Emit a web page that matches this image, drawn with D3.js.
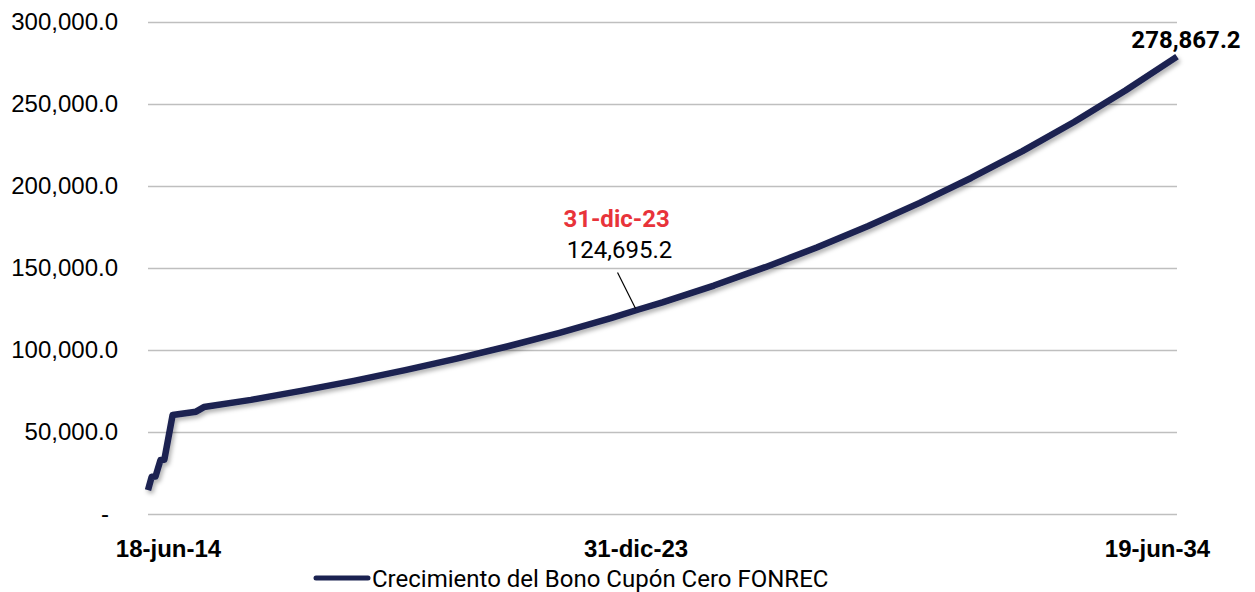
<!DOCTYPE html>
<html>
<head>
<meta charset="utf-8">
<script src="https://cdn.jsdelivr.net/npm/d3@7"></script>
<style>
  html, body { margin: 0; padding: 0; background: #fff; }
  svg { display: block; font-family: Roboto, "Noto Sans", sans-serif; }
</style>
</head>
<body>
<svg id="chart" width="1255" height="592"></svg>
<script>
// data
var dates = ["2014-06-18", "2014-07-14", "2014-08-10", "2014-09-15", "2014-10-12", "2014-12-10",
  "2015-05-25", "2015-07-20", "2016-06-18", "2017-06-18", "2018-06-18", "2019-06-18",
  "2020-06-18", "2021-06-18", "2022-06-18", "2023-06-18", "2023-12-31", "2024-06-18",
  "2025-06-18", "2026-06-18", "2027-06-18", "2028-06-18", "2029-06-18", "2030-06-18",
  "2031-06-18", "2032-06-18", "2033-06-18", "2034-06-19"];
var values = [14600, 22700, 22800, 33000, 33100, 60400,
  62400, 65200, 69600, 75200, 81200, 87700,
  94700, 102300, 110500, 119400, 124695.2, 129000,
  139300, 150500, 162500, 175600, 189700, 204900,
  221300, 239000, 258200, 278867.2];
var yTicks = [0, 50000, 100000, 150000, 200000, 250000, 300000];
var xTickDates = ["2014-06-18", "2023-12-31", "2034-06-19"];
var xTickLabels = ["18-jun-14", "31-dic-23", "19-jun-34"];
var seriesName = "Crecimiento del Bono Cupón Cero FONREC";
var calloutDate = "2023-12-31", calloutValue = 124695.2, calloutLabel = "31-dic-23";

var parse = d3.timeParse("%Y-%m-%d");
var data = dates.map(function (d, i) { return { date: parse(d), value: values[i] }; });

var margin = { top: 22, right: 78, bottom: 78, left: 148 };
var width = 1255 - margin.left - margin.right;
var height = 592 - margin.top - margin.bottom;

var svg = d3.select("#chart");
var defs = svg.append("defs");
var shadow = defs.append("filter").attr("id", "shadow")
    .attr("x", "-5%").attr("y", "-5%").attr("width", "110%").attr("height", "120%");
shadow.append("feDropShadow")
    .attr("dx", 2).attr("dy", 3).attr("stdDeviation", 2)
    .attr("flood-color", "#000").attr("flood-opacity", 0.3);

var g = svg.append("g").attr("transform", "translate(" + margin.left + "," + margin.top + ")");

var x = d3.scaleTime()
    .domain([parse(dates[0]), parse(dates[dates.length - 1])])
    .range([0, width]);
var y = d3.scaleLinear().domain([0, 300000]).range([height, 0]);

// gridlines + y labels
var yAxis = d3.axisLeft(y)
    .tickValues(yTicks)
    .tickSize(-width)
    .tickPadding(30)
    .tickFormat(function (d) { return d === 0 ? "-" : d3.format(",.1f")(d); });
var ya = g.append("g").call(yAxis);
ya.select(".domain").remove();
ya.selectAll(".tick line").attr("stroke", "#bfbfbf").attr("stroke-width", 1.5);
ya.selectAll(".tick text")
    .attr("fill", "#000")
    .style("font-size", "24px")
    .attr("dx", function (d) { return d === 0 ? -9 : 0; });

// x labels
var xAxis = d3.axisBottom(x)
    .tickValues(xTickDates.map(parse))
    .tickSize(0)
    .tickPadding(26)
    .tickFormat(function (d, i) { return xTickLabels[i]; });
var xa = g.append("g").attr("transform", "translate(0," + height + ")").call(xAxis);
xa.select(".domain").remove();
xa.selectAll(".tick text")
    .attr("fill", "#000")
    .style("font-size", "24px")
    .style("font-weight", "bold")
    .attr("dx", function (d, i) { return i === 0 ? 20 : (i === xTickDates.length - 1 ? -20 : -3); });

// series line
var line = d3.line()
    .x(function (d) { return x(d.date); })
    .y(function (d) { return y(d.value); });
g.append("path")
    .datum(data)
    .attr("d", line)
    .attr("fill", "none")
    .attr("stroke", "#1b2251")
    .attr("stroke-width", 6.5)
    .attr("stroke-linejoin", "round")
    .attr("filter", "url(#shadow)");

// callout
var cx = x(parse(calloutDate)), cy = y(calloutValue);
g.append("line")
    .attr("x1", cx - 21).attr("y1", cy - 37)
    .attr("x2", cx - 3).attr("y2", cy - 1)
    .attr("stroke", "#000").attr("stroke-width", 1.2);
g.append("text")
    .attr("x", cx - 22).attr("y", cy - 82)
    .attr("text-anchor", "middle")
    .attr("fill", "#e8333a")
    .style("font-size", "24px").style("font-weight", "bold")
    .text(calloutLabel);
g.append("text")
    .attr("x", cx - 19).attr("y", cy - 51)
    .attr("text-anchor", "middle")
    .attr("fill", "#000")
    .style("font-size", "24px")
    .text(d3.format(",.1f")(calloutValue));

// end label
var last = data[data.length - 1];
g.append("text")
    .attr("x", x(last.date) + 9).attr("y", y(last.value) - 9)
    .attr("text-anchor", "middle")
    .attr("fill", "#000")
    .style("font-size", "24px").style("font-weight", "bold")
    .text(d3.format(",.1f")(last.value));

// legend
var lg = svg.append("g").attr("transform", "translate(316,578)");
lg.append("line")
    .attr("x1", 0).attr("x2", 52).attr("y1", 0).attr("y2", 0)
    .attr("stroke", "#1b2251").attr("stroke-width", 5).attr("stroke-linecap", "round");
lg.append("text")
    .attr("x", 56).attr("y", 9)
    .attr("fill", "#000")
    .style("font-size", "24px")
    .text(seriesName);
</script>
</body>
</html>
